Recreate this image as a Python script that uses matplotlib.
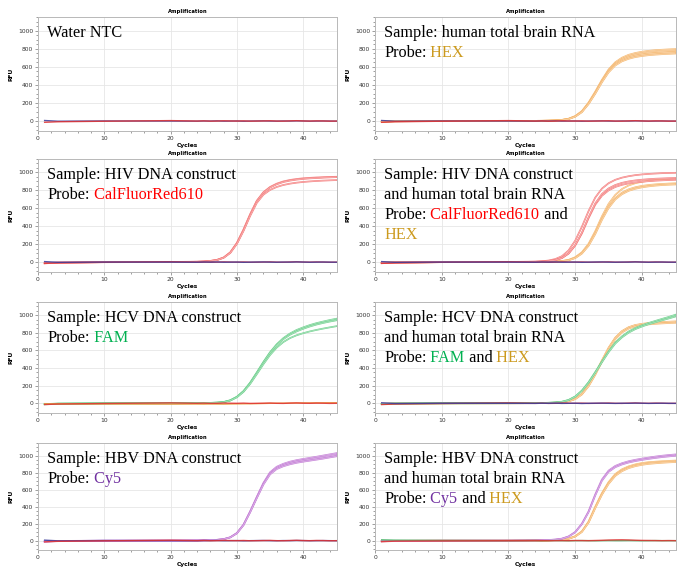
import matplotlib
matplotlib.use('Agg')
import matplotlib.pyplot as plt
from matplotlib.ticker import MultipleLocator
from matplotlib.colors import to_rgb

cycles = [1, 3, 10, 20, 24, 25, 26, 27, 28, 29, 30, 31, 32, 33, 34, 35, 36, 37, 38, 39, 40, 41, 42, 43, 44, 45]

# flat (non-amplifying) wells
base_blue = [6, -2, 1, 0, -1, 1, 0, 2, -1, 0, 1, -2, 0, 1, 2, 0, -1, 1, 0, 2, 1, -1, 0, 1, 0, -1]
base_red = [-14, -8, -2, 5, 0, 2, -1, 0, 3, 1, 0, 2, -1, 0, 1, 3, 0, -1, 2, 4, 1, 0, 2, 1, -1, 0]
base_red2 = [-12, -6, -3, 0, 1, 0, -1, 0, 1, 0, 2, 1, 0, 2, 4, 7, 9, 10, 8, 5, 3, 2, 1, 0, 1, 0]
base_orange = [-4, -6, -8, -10, -9, -10, -8, -9, -10, -8, -7, -6, -5, -4, -2, 0, 1, 2, 3, 4, 5, 5, 6, 6, 7, 7]
base_green = [10, 6, 2, 0, 1, -1, 0, 1, 0, -1, 0, 1, 0, -1, 0, 1, 0, 0, 1, 0, -1, 0, 1, 0, 0, 0]

# human total brain RNA, HEX
hex2_a = [-6, -2, 0, 1, 2, 3, 5, 8, 13, 26, 55, 110, 205, 325, 455, 570, 650, 700, 732, 752, 766, 776, 783, 788, 792, 795]
hex2_b = [-8, -3, 0, 1, 2, 3, 4, 7, 12, 24, 52, 105, 198, 315, 445, 558, 636, 685, 715, 735, 748, 757, 764, 769, 773, 776]
hex2_c = [-5, -1, 1, 2, 2, 3, 4, 7, 12, 23, 50, 102, 193, 308, 436, 548, 625, 672, 702, 721, 734, 743, 749, 754, 758, 761]
hex2_d = [-7, -2, 0, 0, 1, 2, 4, 6, 11, 22, 48, 98, 188, 302, 428, 538, 614, 660, 688, 707, 719, 728, 734, 739, 743, 746]

# HIV, CalFluorRed610
red3_a = [-12, -5, 0, 2, 5, 8, 14, 26, 52, 110, 215, 365, 535, 685, 780, 838, 875, 900, 916, 927, 935, 940, 944, 947, 950, 952]
red3_b = [-10, -4, 0, 1, 4, 7, 13, 24, 50, 106, 210, 358, 528, 678, 774, 832, 868, 893, 909, 920, 928, 934, 938, 942, 945, 948]
red3_c = [-14, -6, -1, 1, 4, 7, 12, 23, 48, 102, 203, 348, 515, 660, 752, 805, 838, 860, 875, 886, 894, 900, 905, 909, 912, 915]

# HIV + RNA
red4_a = [-10, -4, 0, 2, 6, 10, 18, 34, 66, 130, 240, 395, 570, 720, 820, 880, 918, 942, 958, 970, 978, 984, 988, 992, 994, 996]
red4_b = [-12, -5, 0, 1, 4, 7, 12, 22, 45, 95, 185, 320, 490, 640, 740, 800, 838, 862, 878, 889, 897, 903, 908, 912, 915, 918]
red4_c = [-8, -3, 0, 1, 4, 7, 12, 23, 46, 97, 190, 328, 500, 655, 760, 822, 860, 884, 900, 911, 919, 925, 930, 933, 936, 938]
hex4_a = [-6, -2, 0, 1, 2, 3, 4, 7, 12, 25, 55, 110, 205, 345, 510, 650, 750, 815, 855, 880, 896, 907, 915, 921, 926, 930]
hex4_b = [-8, -3, 0, 0, 1, 2, 4, 6, 11, 22, 48, 100, 190, 325, 485, 620, 715, 775, 812, 835, 850, 860, 867, 872, 876, 879]
hex4_c = [-7, -2, 0, 1, 2, 3, 4, 6, 11, 21, 45, 95, 182, 312, 470, 603, 698, 757, 795, 818, 834, 845, 853, 859, 863, 866]

# HCV, FAM
fam5_a = [-10, -4, 0, 1, 2, 3, 5, 8, 15, 35, 75, 140, 235, 350, 470, 580, 670, 740, 792, 832, 862, 888, 910, 928, 945, 960]
fam5_b = [-8, -3, 0, 1, 2, 3, 5, 8, 14, 33, 72, 136, 230, 345, 463, 572, 660, 728, 778, 816, 846, 872, 894, 912, 928, 942]
fam5_c = [-12, -5, -1, 0, 2, 3, 4, 7, 13, 31, 68, 130, 220, 330, 444, 548, 632, 695, 740, 772, 796, 816, 833, 848, 862, 875]

# HCV + RNA
fam6_a = [-8, -3, 0, 1, 2, 4, 6, 10, 18, 38, 78, 145, 240, 355, 475, 590, 690, 760, 815, 855, 885, 912, 935, 958, 980, 1005]
fam6_b = [-6, -2, 0, 1, 2, 4, 6, 10, 17, 36, 75, 140, 233, 347, 466, 580, 678, 748, 802, 842, 872, 898, 920, 942, 963, 985]
hex6_a = [-5, -2, 0, 1, 2, 3, 4, 7, 12, 24, 50, 105, 200, 330, 480, 625, 740, 815, 860, 885, 898, 906, 912, 916, 920, 923]
hex6_b = [-7, -3, 0, 1, 2, 3, 4, 7, 12, 24, 52, 108, 205, 337, 488, 632, 746, 820, 864, 889, 902, 911, 918, 922, 926, 930]
hex6_c = [-6, -2, 0, 0, 1, 2, 4, 6, 11, 22, 47, 100, 193, 322, 470, 612, 728, 803, 848, 873, 887, 896, 902, 907, 911, 914]

# HBV, Cy5
cy5_7_a = [-10, -4, 0, 1, 3, 4, 6, 10, 18, 40, 90, 190, 345, 515, 680, 805, 870, 905, 930, 948, 962, 975, 988, 1002, 1016, 1030]
cy5_7_b = [-8, -3, 0, 1, 3, 4, 6, 10, 18, 39, 88, 186, 340, 508, 670, 792, 856, 890, 914, 932, 946, 958, 970, 982, 995, 1010]
cy5_7_c = [-12, -5, -1, 0, 2, 4, 6, 9, 17, 38, 86, 182, 334, 500, 660, 780, 843, 876, 899, 917, 930, 942, 954, 966, 980, 993]

# HBV + RNA
cy5_8_a = [-8, -3, 0, 1, 3, 5, 8, 13, 24, 50, 102, 200, 345, 545, 720, 825, 880, 912, 935, 952, 966, 978, 990, 1000, 1008, 1015]
cy5_8_b = [-6, -2, 0, 1, 3, 5, 7, 12, 22, 47, 98, 194, 336, 532, 705, 810, 865, 897, 920, 937, 951, 963, 974, 984, 992, 1000]
hex8_a = [-5, -2, 0, 1, 2, 3, 4, 7, 12, 24, 52, 110, 225, 400, 560, 690, 785, 840, 875, 898, 914, 924, 930, 935, 939, 943]
hex8_b = [-7, -3, 0, 1, 2, 3, 4, 6, 11, 23, 50, 106, 218, 390, 548, 678, 772, 828, 864, 887, 903, 913, 920, 925, 930, 934]
hex8_c = [-6, -2, 0, 0, 1, 2, 4, 6, 11, 22, 48, 102, 212, 382, 540, 668, 762, 818, 854, 877, 893, 904, 911, 917, 922, 926]

C_HEX, T_HEX = '#F5B870', '#CC9A1E'
C_RED, T_RED = '#F47C7C', '#FF0000'
C_FAM, T_FAM = '#6FD08E', '#00B050'
C_CY5, T_CY5 = '#C47ED6', '#7030A0'
C_BLUE, C_BRED = '#3A3A9A', '#E03030'
C_BORG, C_BGRN = '#E8A040', '#40B060'
BLACK = 'black'

panels = [
    {'lines': [[('Water NTC', BLACK)]],
     'curves': [(base_blue, C_BLUE), (base_red, C_BRED)]},
    {'lines': [[('Sample: human total brain RNA', BLACK)],
               [('Probe:', BLACK), (' HEX', T_HEX)]],
     'curves': [(base_blue, C_BLUE), (base_red, C_BRED),
                (hex2_a, C_HEX), (hex2_b, C_HEX), (hex2_c, C_HEX), (hex2_d, C_HEX)]},
    {'lines': [[('Sample: HIV DNA construct', BLACK)],
               [('Probe:', BLACK), (' CalFluorRed610', T_RED)]],
     'curves': [(base_red, C_BRED), (base_blue, C_BLUE),
                (red3_a, C_RED), (red3_b, C_RED), (red3_c, C_RED)]},
    {'lines': [[('Sample: HIV DNA construct', BLACK)],
               [('and human total brain RNA', BLACK)],
               [('Probe:', BLACK), (' CalFluorRed610', T_RED), (' and', BLACK)],
               [('HEX', T_HEX)]],
     'curves': [(base_red, C_BRED), (base_blue, C_BLUE),
                (hex4_a, C_HEX), (hex4_b, C_HEX), (hex4_c, C_HEX),
                (red4_a, C_RED), (red4_b, C_RED), (red4_c, C_RED)]},
    {'lines': [[('Sample: HCV DNA construct', BLACK)],
               [('Probe:', BLACK), (' FAM', T_FAM)]],
     'curves': [(base_orange, C_BORG), (base_red, C_BRED),
                (fam5_a, C_FAM), (fam5_b, C_FAM), (fam5_c, C_FAM)]},
    {'lines': [[('Sample: HCV DNA construct', BLACK)],
               [('and human total brain RNA', BLACK)],
               [('Probe:', BLACK), (' FAM', T_FAM), (' and', BLACK), (' HEX', T_HEX)]],
     'curves': [(base_red, C_BRED), (base_blue, C_BLUE),
                (hex6_a, C_HEX), (hex6_b, C_HEX), (hex6_c, C_HEX),
                (fam6_a, C_FAM), (fam6_b, C_FAM)]},
    {'lines': [[('Sample: HBV DNA construct', BLACK)],
               [('Probe:', BLACK), (' Cy5', T_CY5)]],
     'curves': [(base_blue, C_BLUE), (base_red, C_BRED),
                (cy5_7_a, C_CY5), (cy5_7_b, C_CY5), (cy5_7_c, C_CY5)]},
    {'lines': [[('Sample: HBV DNA construct', BLACK)],
               [('and human total brain RNA', BLACK)],
               [('Probe:', BLACK), (' Cy5', T_CY5), (' and', BLACK), (' HEX', T_HEX)]],
     'curves': [(base_green, C_BGRN), (base_red2, C_BRED),
                (hex8_a, C_HEX), (hex8_b, C_HEX), (hex8_c, C_HEX),
                (cy5_8_a, C_CY5), (cy5_8_b, C_CY5)]},
]

W, H = 677, 567
fig = plt.figure(figsize=(W / 100, H / 100), dpi=100)

col_x = [(38, 337), (375, 676)]
row_y = [(17, 131), (159, 272), (302, 413), (443, 550)]
serif = ['Liberation Serif', 'DejaVu Serif']


def pale(col, f=0.55):
    r, g, b = to_rgb(col)
    return (r + (1 - r) * f, g + (1 - g) * f, b + (1 - b) * f)


for i, p in enumerate(panels):
    r, c = divmod(i, 2)
    x0, x1 = col_x[c]
    y0, y1 = row_y[r]
    ax = fig.add_axes([x0 / W, 1 - y1 / H, (x1 - x0) / W, (y1 - y0) / H])
    for vals, col in p['curves']:
        if col in (C_BLUE, C_BRED, C_BORG, C_BGRN):
            # flat wells sit on top of the baseline part of the traces
            ax.plot(cycles, vals, color=col, lw=1.0, alpha=0.85, zorder=4)
        else:
            # amplification traces look like a pale double line
            ax.plot(cycles, vals, color=col, lw=1.2, zorder=2)
            ax.plot(cycles, vals, color=pale(col), lw=0.4, zorder=2)
    ax.set_xlim(0, 45.1)
    ax.set_ylim(-110, 1150)
    ax.xaxis.set_major_locator(MultipleLocator(10))
    ax.yaxis.set_major_locator(MultipleLocator(200))
    ax.xaxis.set_minor_locator(MultipleLocator(2))
    ax.yaxis.set_minor_locator(MultipleLocator(50))
    ax.grid(True, which='major', color='#E6E6E6', lw=0.6)
    ax.set_axisbelow(True)
    for s in ax.spines.values():
        s.set_color('#B8B8B8')
        s.set_linewidth(0.7)
    ax.tick_params(which='both', labelsize=4.3, colors='#777777', labelcolor='#333333',
                   length=2, width=0.5, pad=1.5)
    ax.tick_params(which='minor', length=1.2)
    ax.set_title('Amplification', fontsize=3.8, fontweight='bold', pad=3)
    ax.set_xlabel('Cycles', fontsize=4.3, fontweight='bold', labelpad=1.5)
    ax.set_ylabel('RFU', fontsize=4.3, fontweight='bold', labelpad=3)

    # sample / probe text, coloured per dye
    for k, segs in enumerate(p['lines']):
        prev = None
        for s, col in segs:
            if prev is None:
                prev = ax.annotate(s, xy=(0, 1), xycoords='axes fraction',
                                   xytext=(9, -20 - 20 * k), textcoords='offset pixels',
                                   va='baseline', ha='left', color=col,
                                   fontsize=11.7, family=serif)
            else:
                prev = ax.annotate(s, xy=(1, 0), xycoords=prev,
                                   va='bottom', ha='left', color=col,
                                   fontsize=11.7, family=serif)

fig.savefig('out.png', dpi=100)
